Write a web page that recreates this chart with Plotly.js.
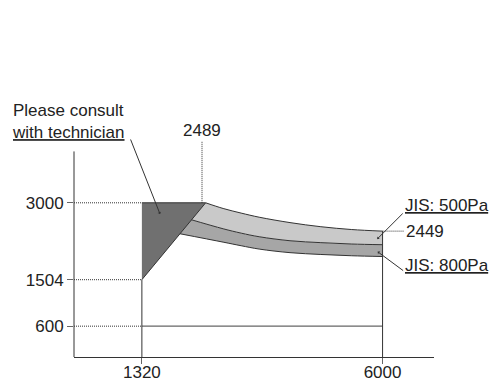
<!DOCTYPE html>
<html><head><meta charset="utf-8">
<script src="https://cdn.plot.ly/plotly-3.0.1.min.js"></script>
<style>html,body{margin:0;padding:0;background:#fff}#chart{width:494px;height:382px}</style>
</head><body><div id="chart"></div>
<script>
// ---- data ----
const xTickVals = [1320, 6000];
const xTickText = ['1320', '6000'];
const yTickVals = [600, 1504, 3000];
const yTickText = ['600', '1504', '3000'];
const peakX = 2489;          // labelled start of the JIS curves
const endY500 = 2449;        // labelled end value of the 500Pa curve
const baseY = 600;           // lower horizontal line
const yAxisTop = 4000;

// "Please consult with technician" region (dark triangle)
const regionX = [1320, 2560, 1320];
const regionY = [3000, 3000, 1504];

// JIS 500Pa band: upper edge / shared middle edge ; JIS 800Pa band lower edge
const top500X = [2560, 2900, 3250, 3600, 4200, 4800, 5400, 6000];
const top500Y = [3000, 2890, 2800, 2720, 2615, 2535, 2480, 2449];
const midX    = [2250, 2900, 3250, 3600, 4200, 4800, 5400, 6000];
const midY    = [2680, 2495, 2410, 2340, 2262, 2225, 2198, 2185];
const bot800X = [2050, 2900, 3250, 3600, 4200, 4800, 5400, 6000];
const bot800Y = [2400, 2235, 2165, 2100, 2030, 1995, 1970, 1955];

// callout targets
const consultPt = [1672, 2783];
const jis500Pt = [5896, 2296];
const jis800Pt = [5904, 2049];

// ---- helpers for label placement (pixel -> paper) ----
const M = {l:74, r:60, t:136, b:25}, W = 494, H = 382;
const PW = W - M.l - M.r, PH = H - M.t - M.b;
const pX = px => (px - M.l) / PW;
const pY = py => 1 - (py - M.t) / PH;

const DOT = '1px,1px';
const INK = '#333';

// dotted leaders from the y axis to x=1320
const leadX = [], leadY = [];
yTickVals.forEach((v, i) => { if (i) { leadX.push(null); leadY.push(null); } leadX.push(0, xTickVals[0]); leadY.push(v, v); });

const traces = [
  {x: leadX, y: leadY, mode: 'lines', line: {color: INK, width: 1, dash: DOT}},
  {x: bot800X, y: bot800Y, mode: 'lines', line: {color: INK, width: 1, shape: 'spline'}},
  {x: midX, y: midY, mode: 'lines', fill: 'tonexty', fillcolor: '#a6a6a6', line: {color: INK, width: 1, shape: 'spline'}},
  {x: top500X, y: top500Y, mode: 'lines', fill: 'tonexty', fillcolor: '#c9c9c9', line: {color: INK, width: 1, shape: 'spline'}},
  {x: regionX, y: regionY, mode: 'lines', fill: 'toself', fillcolor: '#707070', line: {color: INK, width: 1}},
  {x: [xTickVals[0], xTickVals[1]], y: [baseY, baseY], mode: 'lines', line: {color: '#666', width: 1.3}},
  {x: [xTickVals[0], xTickVals[0], null, xTickVals[1], xTickVals[1]],
   y: [0, regionY[2], null, 0, endY500], mode: 'lines', line: {color: INK, width: 1}}
];

const font = {family: 'Liberation Sans, Arial, sans-serif', size: 17, color: '#222'};
const u = t => '<span style="text-decoration:underline">' + t + '</span>';

const annotations = [
  {xref: 'paper', yref: 'paper', x: pX(10), y: pY(121), xanchor: 'left', yanchor: 'middle', align: 'left',
   text: 'Please consult<br>' + u('with technician'), showarrow: false, font},
  {xref: 'x', yref: 'paper', x: peakX, y: pY(130.5), xanchor: 'center', yanchor: 'middle', text: String(peakX), showarrow: false, font},
  {xref: 'paper', yref: 'paper', x: pX(403), y: pY(205), xanchor: 'left', yanchor: 'middle', text: u('JIS: 500Pa'), showarrow: false, font},
  {xref: 'paper', yref: 'y', x: pX(404), y: endY500, xanchor: 'left', yanchor: 'middle', text: String(endY500), showarrow: false, font},
  {xref: 'paper', yref: 'paper', x: pX(403), y: pY(265), xanchor: 'left', yanchor: 'middle', text: u('JIS: 800Pa'), showarrow: false, font},
  {x: consultPt[0], y: consultPt[1], text: '', showarrow: true, ax: -30, ay: -76, arrowhead: 1, arrowsize: 0.6, arrowwidth: 1, arrowcolor: INK},
  {x: jis500Pt[0], y: jis500Pt[1], text: '', showarrow: true, ax: 27, ay: -27, arrowhead: 1, arrowsize: 0.6, arrowwidth: 1, arrowcolor: INK},
  {x: jis800Pt[0], y: jis800Pt[1], text: '', showarrow: true, ax: 27, ay: 20, arrowhead: 1, arrowsize: 0.6, arrowwidth: 1, arrowcolor: INK}
];

const shapes = [
  {type: 'line', xref: 'paper', yref: 'y', x0: 0, x1: 0, y0: 0, y1: yAxisTop, line: {color: INK, width: 1}},
  {type: 'line', xref: 'x', yref: 'y', x0: peakX, x1: peakX, ysizemode: 'pixel', yanchor: regionY[0], y0: 0, y1: 62,
   line: {color: INK, width: 1, dash: DOT}},
  {type: 'line', xref: 'x', yref: 'y', xsizemode: 'pixel', xanchor: xTickVals[1], x0: 0, x1: 21, y0: endY500, y1: endY500,
   line: {color: INK, width: 1, dash: DOT}}
];

const layout = {
  width: W, height: H, margin: M,
  paper_bgcolor: '#fff', plot_bgcolor: '#fff',
  font, showlegend: false, hovermode: false,
  xaxis: {range: [0, 7000], showgrid: false, zeroline: false, showline: true, linecolor: INK, linewidth: 1,
          ticks: 'outside', ticklen: 6, tickcolor: '#666', tickwidth: 1, ticklabelstandoff: -6,
          tickvals: xTickVals, ticktext: xTickText, tickfont: font, fixedrange: true},
  yaxis: {range: [0, 4300], showgrid: false, zeroline: false, showline: false,
          ticks: 'outside', ticklen: 6, tickcolor: '#666', tickwidth: 1,
          tickvals: yTickVals, ticktext: yTickText, tickfont: font, fixedrange: true},
  shapes, annotations
};

Plotly.newPlot('chart', traces, layout, {staticPlot: true, displayModeBar: false});
</script></body></html>
